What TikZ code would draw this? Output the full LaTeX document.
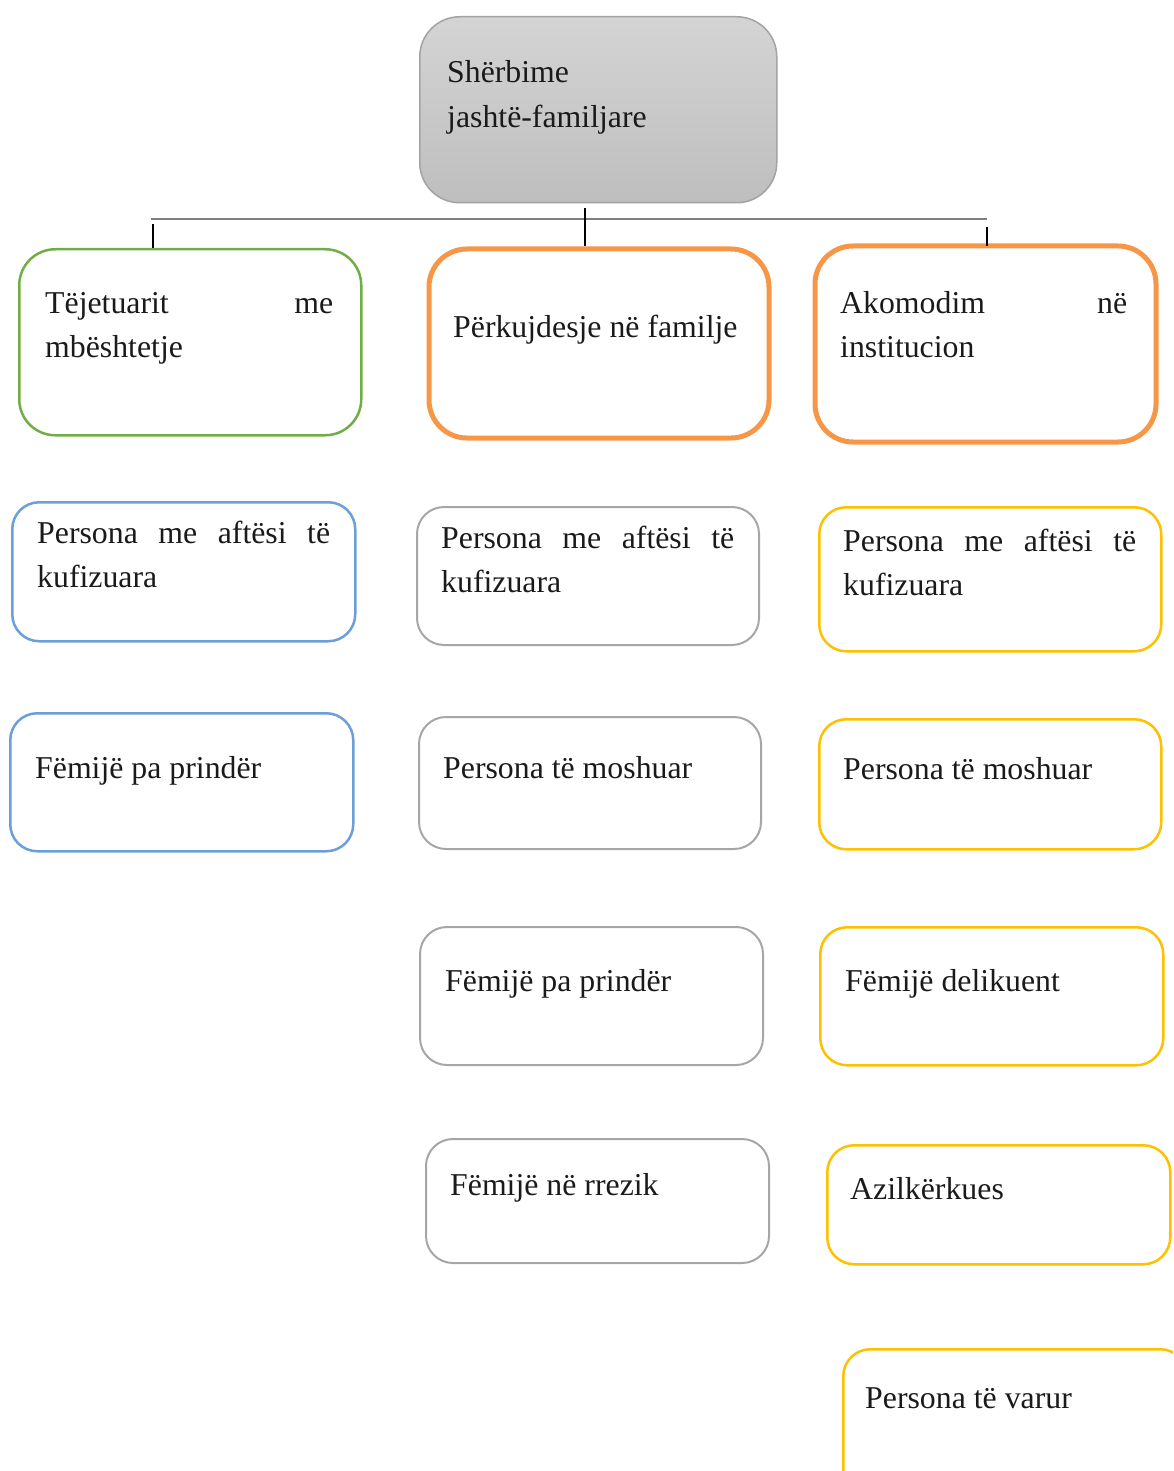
\documentclass[tikz,border=0pt]{standalone}
\usepackage{fontspec}
\setmainfont{Liberation Serif}
\definecolor{cgreen}{HTML}{70AD47}
\definecolor{corange}{HTML}{F79646}
\definecolor{cblue}{HTML}{6A9FDB}
\definecolor{cgray}{HTML}{A6A6A6}
\definecolor{cyellow}{HTML}{FFC000}
\definecolor{ctopborder}{HTML}{A3A3A3}
\definecolor{ctoptop}{HTML}{D4D4D4}
\definecolor{ctopbot}{HTML}{BEBEBE}
\definecolor{ctext}{HTML}{1A1A1A}
\definecolor{cbus}{HTML}{7F7F7F}
\tikzset{
  boxbase/.style={draw, rectangle, inner sep=0pt, anchor=north west},
  topbox/.style={boxbase, draw=ctopborder, line width=1.5pt, rounded corners=40pt, top color=ctoptop, bottom color=ctopbot},
  greenbox/.style={boxbase, draw=cgreen, line width=2.5pt, rounded corners=36pt},
  orangebox/.style={boxbase, draw=corange, line width=5pt, rounded corners=38pt},
  bluebox/.style={boxbase, draw=cblue, line width=2.5pt, rounded corners=27pt},
  graybox/.style={boxbase, draw=cgray, line width=2pt, rounded corners=27pt},
  yellowbox/.style={boxbase, draw=cyellow, line width=2.5pt, rounded corners=27pt},
  txt/.style={anchor=base west, inner sep=0pt, text=ctext, font=\fontsize{31.8}{44.5}\selectfont},
  bus/.style={draw=cbus, line width=1.4pt},
  tick/.style={draw=black, line width=2pt}
}
\newcommand{\boxtext}[2]{\parbox[t]{#1}{\fontsize{31.8}{44.5}\selectfont #2}}
\begin{document}
\begin{tikzpicture}[x=1pt,y=-1pt]
\useasboundingbox (0,0) rectangle (1173,1471);
\clip (0,0) rectangle (1173,1471);
% boxes
\node[topbox, minimum width=357pt, minimum height=186pt] (top) at (419,16) {};
\node[greenbox, minimum width=342pt, minimum height=186pt] (tj) at (18,248) {};
\node[orangebox, minimum width=340pt, minimum height=189pt] (pf) at (426.5,246.5) {};
\node[orangebox, minimum width=341pt, minimum height=196pt] (ak) at (812.5,243.5) {};
\node[bluebox, minimum width=343pt, minimum height=139pt] (b1) at (11,501) {};
\node[graybox, minimum width=342pt, minimum height=138pt] (g1) at (416,506) {};
\node[yellowbox, minimum width=342pt, minimum height=144pt] (y1) at (818,506) {};
\node[bluebox, minimum width=343pt, minimum height=138pt] (b2) at (9,712) {};
\node[graybox, minimum width=342pt, minimum height=132pt] (g2) at (418,716) {};
\node[yellowbox, minimum width=342pt, minimum height=130pt] (y2) at (818,718) {};
\node[graybox, minimum width=343pt, minimum height=138pt] (g3) at (419,926) {};
\node[yellowbox, minimum width=343pt, minimum height=138pt] (y3) at (819,926) {};
\node[graybox, minimum width=343pt, minimum height=124pt] (g4) at (425,1138) {};
\node[yellowbox, minimum width=343pt, minimum height=119pt] (y4) at (826,1144) {};
\node[yellowbox, minimum width=344pt, minimum height=150pt] (y5) at (842,1348) {};
% texts
\node[txt] (ttop) at (447,83) {\boxtext{320pt}{Shërbime\\jashtë-familjare}};
\node[txt] (ttj) at (45,313) {\boxtext{288pt}{\makebox[288pt][s]{Tëjetuarit me}\\mbështetje}};
\node[txt] (tpf) at (453,337) {Përkujdesje në familje};
\node[txt] (tak) at (840,313) {\boxtext{287pt}{\makebox[287pt][s]{Akomodim në}\\institucion}};
\node[txt] (tb1) at (37,543) {\boxtext{293pt}{\makebox[293pt][s]{Persona me aftësi të}\\kufizuara}};
\node[txt] (tg1) at (441,548) {\boxtext{293pt}{\makebox[293pt][s]{Persona me aftësi të}\\kufizuara}};
\node[txt] (ty1) at (843,551) {\boxtext{293pt}{\makebox[293pt][s]{Persona me aftësi të}\\kufizuara}};
\node[txt] (tb2) at (35,778) {Fëmijë pa prindër};
\node[txt] (tg2) at (443,778) {Persona të moshuar};
\node[txt] (ty2) at (843,779) {Persona të moshuar};
\node[txt] (tg3) at (445,991) {Fëmijë pa prindër};
\node[txt] (ty3) at (845,991) {Fëmijë delikuent};
\node[txt] (tg4) at (450,1195) {Fëmijë në rrezik};
\node[txt] (ty4) at (850,1199) {Azilkërkues};
\node[txt] (ty5) at (865,1408) {Persona të varur};
% connectors
\coordinate (busL) at (151,219);
\coordinate (busR) at (987,219);
\coordinate (tickL) at (153,224);
\coordinate (tickM) at (585,208);
\coordinate (tickR) at (987,227);
\draw[bus] (busL) -- (busR);
\draw[tick] (tickL) -- (tickL |- tj.north);
\draw[tick] (tickM) -- (tickM |- pf.north);
\draw[tick] (tickR) -- ([yshift=-3pt]tickR |- ak.north);
\end{tikzpicture}
\end{document}
